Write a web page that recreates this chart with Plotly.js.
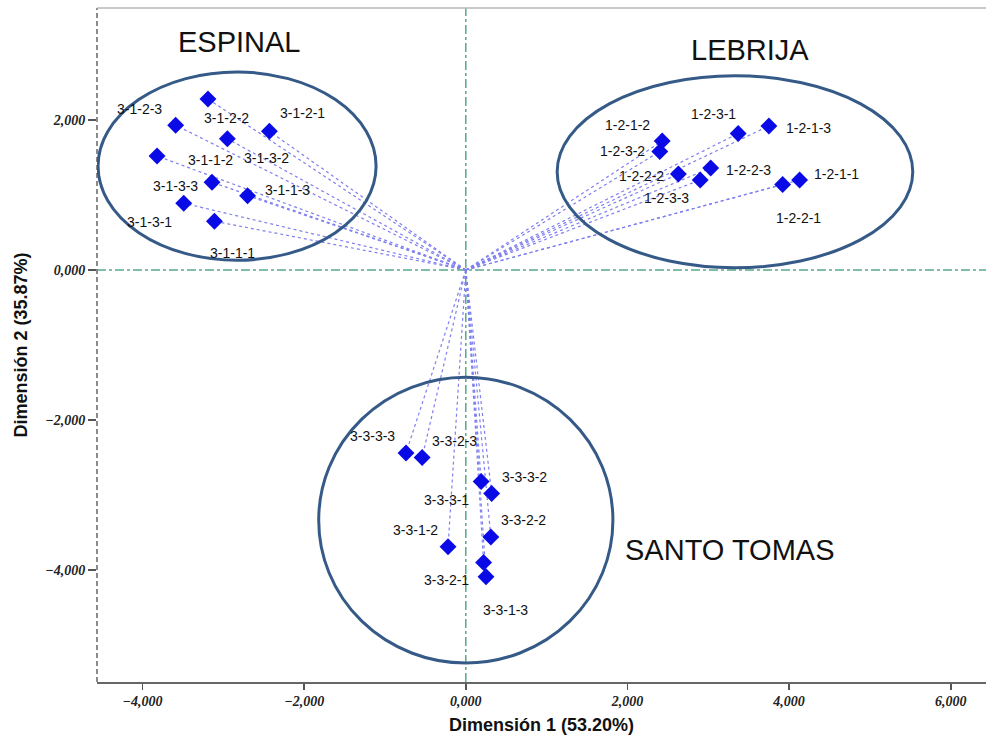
<!DOCTYPE html>
<html>
<head>
<meta charset="utf-8">
<script src="https://cdn.plot.ly/plotly-3.0.1.min.js"></script>
<style>
  html, body { margin: 0; padding: 0; background: #ffffff; }
  #chart { width: 986px; height: 740px; }
</style>
</head>
<body>
<div id="chart"></div>
<script>
// Object points of the correspondence map (Dimensión 1, Dimensión 2)
const espinalNames = ["3-1-2-2", "3-1-2-3", "3-1-2-1", "3-1-3-2", "3-1-3-3", "3-1-1-2", "3-1-1-3", "3-1-3-1", "3-1-1-1"];
const espinalX = [-3.19, -3.59, -2.43, -2.95, -3.82, -3.14, -2.70, -3.49, -3.11];
const espinalY = [2.28, 1.93, 1.85, 1.75, 1.52, 1.17, 0.99, 0.89, 0.65];

const lebrijaNames = ["1-2-1-2", "1-2-3-2", "1-2-3-1", "1-2-1-3", "1-2-2-2", "1-2-2-3", "1-2-3-3", "1-2-1-1", "1-2-2-1"];
const lebrijaX = [2.43, 2.40, 3.37, 3.75, 2.63, 3.03, 2.90, 4.13, 3.92];
const lebrijaY = [1.72, 1.58, 1.82, 1.92, 1.28, 1.36, 1.20, 1.20, 1.14];

const santoNames = ["3-3-3-3", "3-3-2-3", "3-3-3-1", "3-3-3-2", "3-3-2-2", "3-3-1-2", "3-3-2-1", "3-3-1-3"];
const santoX = [-0.74, -0.54, 0.19, 0.32, 0.31, -0.22, 0.22, 0.25];
const santoY = [-2.44, -2.50, -2.82, -2.98, -3.56, -3.69, -3.90, -4.09];

const groupNames = ["ESPINAL", "LEBRIJA", "SANTO TOMAS"];

const xTicks = [-4, -2, 0, 2, 4, 6];
const yTicks = [-4, -2, 0, 2];

// Label placement (pixel shift from each point), per group
const espinalShift = [[19,-19],[-36,16],[33,18],[39,-19],[18,-30],[-2,22],[40,6],[-34,-19],[18,-32]];
const lebrijaShift = [[-35,16],[-37,0],[-25,19],[40,-2],[-37,-2],[38,-2],[-34,-18],[37,6],[16,-34]];
const santoShift   = [[-34,17],[32,17],[-35,-18],[33,17],[33,17],[-33,17],[-37,-17],[19,-33]];

const allX = espinalX.concat(lebrijaX, santoX);
const allY = espinalY.concat(lebrijaY, santoY);
const allNames = espinalNames.concat(lebrijaNames, santoNames);
const allShift = espinalShift.concat(lebrijaShift, santoShift);

// Dashed rays from the origin to each point
const rayX = [], rayY = [];
allX.forEach((x, i) => { rayX.push(0, x, null); rayY.push(0, allY[i], null); });

const rays = {
  x: rayX, y: rayY, type: 'scatter', mode: 'lines',
  line: { color: '#7f7ff0', width: 1.2, dash: '3px,3px' },
  hoverinfo: 'skip', showlegend: false
};

const points = {
  x: allX, y: allY, text: allNames, type: 'scatter', mode: 'markers',
  marker: { symbol: 'diamond', size: 13, color: '#0a0ae6',
            line: { width: 0 } },
  showlegend: false
};

const labelFont = { family: 'Liberation Sans, Arial, sans-serif', size: 14, color: '#111111' };
const annotations = allNames.map((n, i) => ({
  x: allX[i], y: allY[i], xref: 'x', yref: 'y', text: n,
  showarrow: false, xshift: allShift[i][0], yshift: allShift[i][1],
  font: labelFont
}));

// Group captions
const captionFont = { family: 'Liberation Sans, Arial, sans-serif', size: 29, color: '#111111' };
annotations.push(
  { x: -2.80, y: 3.04, xref: 'x', yref: 'y', text: groupNames[0], showarrow: false, font: captionFont },
  { x: 3.52, y: 2.93, xref: 'x', yref: 'y', text: groupNames[1], showarrow: false, font: captionFont },
  { x: 3.27, y: -3.73, xref: 'x', yref: 'y', text: groupNames[2], showarrow: false, font: captionFont }
);

const ellipseLine = { color: '#355a87', width: 3 };
const shapes = [
  // reference lines through the origin
  { type: 'line', xref: 'x', yref: 'paper', x0: 0, x1: 0, y0: 0, y1: 1, layer: 'below',
    line: { color: '#55a98a', width: 1.5, dash: 'dashdot' } },
  { type: 'line', xref: 'paper', yref: 'y', x0: 0, x1: 1, y0: 0, y1: 0, layer: 'below',
    line: { color: '#55a98a', width: 1.5, dash: 'dashdot' } },
  // frame: dashed left edge, light top edge
  { type: 'line', xref: 'paper', yref: 'paper', x0: 0, x1: 0, y0: 0, y1: 1,
    line: { color: '#666666', width: 1.5, dash: '5px,3px' } },
  { type: 'line', xref: 'paper', yref: 'paper', x0: 0, x1: 1, y0: 1, y1: 1,
    line: { color: '#b8b8b8', width: 1.5 } },
  // group ellipses
  { type: 'circle', xref: 'x', yref: 'y', x0: -4.55, x1: -1.11, y0: 0.13, y1: 2.64, line: ellipseLine },
  { type: 'circle', xref: 'x', yref: 'y', x0: 1.13, x1: 5.53, y0: 0.03, y1: 2.59, line: ellipseLine },
  { type: 'circle', xref: 'x', yref: 'y', x0: -1.82, x1: 1.82, y0: -5.24, y1: -1.43, line: ellipseLine }
];

const tickFont = { family: 'Liberation Serif, serif', size: 14, color: '#222222', weight: 'bold', style: 'italic' };
const titleFont = { family: 'Liberation Sans, Arial, sans-serif', size: 18, color: '#111111', weight: 'bold' };

const layout = {
  width: 986, height: 740,
  margin: { l: 97, r: 0, t: 8, b: 58 },
  paper_bgcolor: '#ffffff', plot_bgcolor: '#ffffff',
  separators: ', ',
  xaxis: {
    range: [-4.563, 6.436], tickvals: xTicks, tickformat: '.3f',
    showgrid: false, zeroline: false,
    showline: true, linecolor: '#666666', linewidth: 1.5,
    ticks: 'outside', ticklen: 6, tickwidth: 1.5, tickcolor: '#555555',
    tickfont: tickFont,
    title: { text: 'Dimensión 1 (53.20%)', font: titleFont, standoff: 10 }
  },
  yaxis: {
    range: [-5.493, 3.493], tickvals: yTicks, tickformat: '.3f',
    showgrid: false, zeroline: false, showline: false,
    ticks: 'outside', ticklen: 8, tickwidth: 1.5, tickcolor: '#555555',
    tickfont: tickFont,
    title: { text: 'Dimensión 2 (35.87%)', font: titleFont, standoff: 12 }
  },
  shapes: shapes,
  annotations: annotations,
  showlegend: false
};

Plotly.newPlot('chart', [rays, points], layout, { staticPlot: true, displayModeBar: false });
</script>
</body>
</html>
